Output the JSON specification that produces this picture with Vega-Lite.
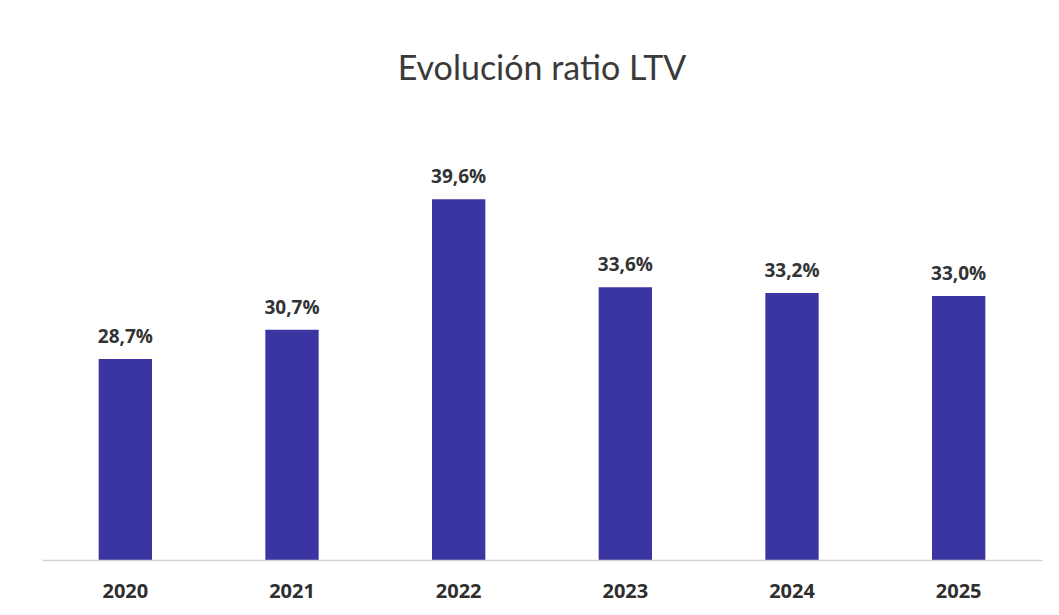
{
  "$schema": "https://vega.github.io/schema/vega-lite/v6.json",
  "width": 1000,
  "height": 440,
  "autosize": {"type": "none"},
  "padding": {"left": 42, "top": 120, "right": 17, "bottom": 55},
  "background": "white",
  "config": {
    "view": {"stroke": null},
    "locale": {
      "number": {"decimal": ",", "thousands": ".", "grouping": [3], "currency": ["", " €"]}
    }
  },
  "title": {
    "text": "Evolución ratio LTV",
    "font": "Lato",
    "fontSize": 34,
    "fontWeight": "normal",
    "color": "#3a3a3a",
    "anchor": "middle",
    "offset": 33
  },
  "data": {
    "values": [
      {"year": "2020", "ltv": 0.287},
      {"year": "2021", "ltv": 0.307},
      {"year": "2022", "ltv": 0.396},
      {"year": "2023", "ltv": 0.336},
      {"year": "2024", "ltv": 0.332},
      {"year": "2025", "ltv": 0.330}
    ]
  },
  "encoding": {
    "x": {
      "field": "year",
      "type": "ordinal",
      "scale": {"paddingInner": 0.68, "paddingOuter": 0.34},
      "axis": {
        "title": null,
        "labelAngle": 0,
        "ticks": false,
        "domainColor": "#d4d4d4",
        "domainWidth": 1.5,
        "labelFont": "Open Sans",
        "labelFontSize": 20,
        "labelFontWeight": "bold",
        "labelColor": "#2e2e2e",
        "labelPadding": 21,
        "zindex": 1
      }
    },
    "y": {
      "field": "ltv",
      "type": "quantitative",
      "scale": {"domain": [0.15, 0.45], "zero": false, "nice": false},
      "axis": null
    }
  },
  "layer": [
    {
      "mark": {"type": "bar", "color": "#3b35a2"},
      "encoding": {"y2": {"datum": 0.15}}
    },
    {
      "mark": {
        "type": "text",
        "baseline": "bottom",
        "dy": -12,
        "font": "Open Sans",
        "fontSize": 19,
        "fontWeight": "bold",
        "color": "#333333"
      },
      "encoding": {"text": {"field": "ltv", "type": "quantitative", "format": ".1%"}}
    }
  ]
}
